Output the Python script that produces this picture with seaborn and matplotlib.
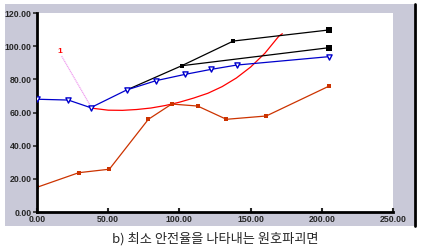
import matplotlib
matplotlib.use("Agg")
import matplotlib.pyplot as plt
import seaborn as sns
import pandas as pd
from matplotlib.patches import Rectangle
from matplotlib.lines import Line2D

# ---- data ----
orange_x = [0, 29.3, 50.8, 78.2, 94.6, 112.8, 133.0, 161.0, 205.3]
orange_y = [14.9, 23.7, 25.8, 55.9, 65.1, 63.9, 55.9, 57.9, 76.0]

arc_x = [39.5, 50, 60, 70, 80, 90, 100, 110, 120, 130, 140, 150, 160, 170, 172.3]
arc_y = [62.5, 61.4, 61.3, 61.8, 62.7, 64.2, 66.2, 68.7, 71.6, 75.6, 80.8, 87.4, 95.7, 106.2, 107.5]

blue_x = [0.2, 22.0, 37.7, 63.0, 83.6, 104.0, 122.2, 140.2, 205.3]
blue_y = [68.0, 67.5, 62.9, 73.6, 79.2, 83.0, 86.0, 88.6, 93.7]

black1_x = [63.0, 101.6, 137.9, 205.3]
black1_y = [73.6, 88.2, 103.1, 109.8]

black2_x = [101.6, 205.3]
black2_y = [88.2, 99.1]

pink_x = [17.3, 37.2]
pink_y = [94.0, 64.5]

x_ticks = [0, 50, 100, 150, 200, 250]
y_ticks = [0, 20, 40, 60, 80, 100, 120]
caption = "b) 최소 안전율을 나타내는 원호파괴면"

sns.set_style("white")
plt.rcParams['font.family'] = ['Liberation Sans', 'DejaVu Sans']

W, H = 421, 249
fig = plt.figure(figsize=(W / 100, H / 100), dpi=100)
fig.patch.set_facecolor("white")

# gray frame
frame = Rectangle((5 / W, 1 - 226 / H), (414 - 5) / W, (226 - 4) / H,
                  transform=fig.transFigure, facecolor="#C9C9D8",
                  edgecolor="none", zorder=-5)
fig.add_artist(frame)
fig.add_artist(Line2D([415 / W, 415 / W], [1 - 226 / H, 1 - 4 / H],
                      transform=fig.transFigure, color="black", lw=2, zorder=-4))

ax = fig.add_axes([37 / W, 1 - 212 / H, (393 - 37) / W, (212 - 13) / H])
ax.set_zorder(2)
ax.set_facecolor("white")

def df(x, y):
    return pd.DataFrame({"x": x, "y": y})

lw = 0.9
sns.lineplot(data=df(pink_x, pink_y), x="x", y="y", ax=ax, color="#F0A0F0",
             lw=lw, ls=(0, (1, 0.5)), sort=False, estimator=None)
sns.lineplot(data=df(arc_x, arc_y), x="x", y="y", ax=ax, color="#FF0000",
             lw=lw, sort=False, estimator=None)
sns.lineplot(data=df(orange_x, orange_y), x="x", y="y", ax=ax, color="#CC3300",
             lw=lw, sort=False, estimator=None, marker="s", markersize=3,
             markeredgewidth=0)
sns.lineplot(data=df(black2_x, black2_y), x="x", y="y", ax=ax, color="black",
             lw=lw, sort=False, estimator=None)
sns.lineplot(data=df(black1_x, black1_y), x="x", y="y", ax=ax, color="black",
             lw=lw, sort=False, estimator=None)
sns.scatterplot(data=df(black1_x[1:3], black1_y[1:3]), x="x", y="y", ax=ax,
                color="black", marker="s", s=6, linewidth=0)
sns.scatterplot(data=df([black1_x[-1], black2_x[-1]], [black1_y[-1], black2_y[-1]]),
                x="x", y="y", ax=ax, color="black", marker="s", s=14, linewidth=0)
sns.lineplot(data=df(blue_x, blue_y), x="x", y="y", ax=ax, color="#0000CC",
             lw=lw, sort=False, estimator=None)
sns.scatterplot(data=df(blue_x, blue_y), x="x", y="y", ax=ax, marker="v",
                s=14, facecolor="white", edgecolor="#0000CC", linewidth=1.0, zorder=5)

ax.text(16.1, 96.7, "1", color="#FF0000", fontsize=6, fontweight="bold",
        ha="center", va="center")

ax.set_xlim(0, 250)
ax.set_ylim(0, 120)
ax.set_xticks(x_ticks)
ax.set_yticks(y_ticks)
ax.set_xticklabels([f"{v:.2f}" for v in x_ticks])
ax.set_yticklabels([f"{v:.2f}" for v in y_ticks])
ax.set_xlabel("")
ax.set_ylabel("")
for lab in ax.get_xticklabels() + ax.get_yticklabels():
    lab.set_fontsize(6.3)
    lab.set_fontweight("bold")
ax.tick_params(axis="x", direction="in", length=3, width=1.5, pad=2, bottom=True)
ax.tick_params(axis="y", direction="out", length=3, width=1.2, pad=1, left=True)

for s in ["top", "right"]:
    ax.spines[s].set_visible(False)
for s in ["left", "bottom"]:
    ax.spines[s].set_color("black")
    ax.spines[s].set_linewidth(2)

fig.text(215 / W, 1 - 239 / H, caption, ha="center", va="center", fontsize=9.5,
         family=["Noto Sans CJK KR", "DejaVu Sans"])

fig.savefig("out.png", dpi=100)
